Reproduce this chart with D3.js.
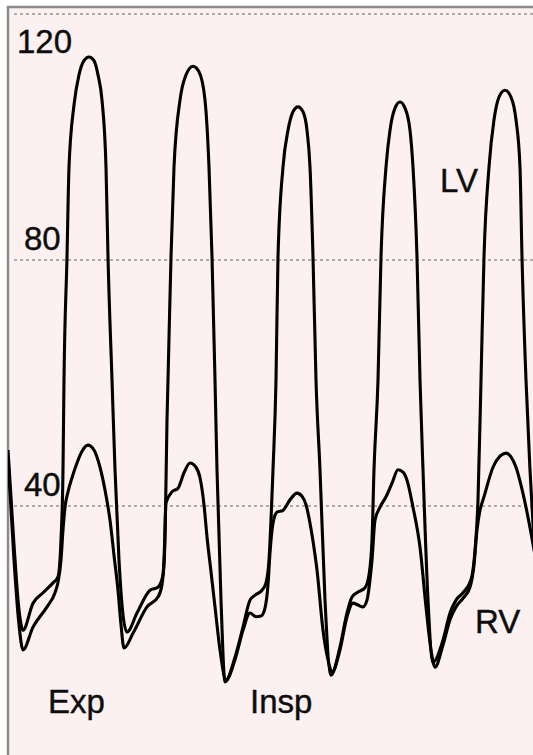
<!DOCTYPE html>
<html>
<head>
<meta charset="utf-8">
<script src="https://cdn.jsdelivr.net/npm/d3@7"></script>
<style>
  html, body { margin: 0; padding: 0; background: #fff; }
  svg { display: block; }
  .lbl { font-family: "Liberation Sans", Arial, sans-serif; font-size: 33px; fill: #0d0d0d; stroke: #0d0d0d; stroke-width: 0.4px; }
</style>
</head>
<body>
<div id="chart"></div>
<script>
// pressure tracing, time in ms, pressure in mmHg
const lvTime = [0, 30, 55, 75, 125, 175, 225, 250, 265, 275, 280, 295, 305, 330, 355, 380, 405, 430, 450, 470,
  490, 500, 520, 535, 555, 575, 595, 645, 710, 750, 775, 785, 795, 800, 815, 830, 860, 890, 925, 955,
  985, 1005, 1020, 1035, 1045, 1065, 1085, 1135, 1175, 1210, 1235, 1270, 1290, 1305, 1315, 1325, 1340, 1350, 1375, 1400,
  1425, 1450, 1475, 1495, 1510, 1525, 1540, 1560, 1585, 1615, 1660, 1695, 1720, 1750, 1785, 1805, 1820, 1830, 1850, 1865,
  1890, 1910, 1935, 1960, 1985, 2010, 2025, 2045, 2060, 2075, 2100, 2125, 2175, 2210, 2240, 2275, 2315, 2335, 2350, 2365,
  2380, 2405, 2430, 2455, 2485, 2515, 2540, 2560, 2570, 2590, 2610, 2635];
const lvPressure = [49.1, 33.7, 23.1, 19.8, 24.2, 25.9, 27.5, 28.5, 34.5, 45.9, 60.5, 80.5, 95.1, 105.2, 110.1, 112.4, 113.0, 112.4, 110.1, 106.0,
  95.1, 80.5, 60.5, 45.9, 31.2, 22.3, 19.5, 22.6, 26.3, 26.8, 28.8, 34.5, 54.0, 60.5, 80.5, 95.1, 106.0, 110.1, 111.5, 110.6,
  106.0, 95.1, 80.5, 60.5, 45.9, 24.7, 11.4, 15.4, 20.3, 24.7, 25.5, 26.3, 27.5, 31.2, 37.7, 45.9, 60.5, 80.5, 95.1, 101.1,
  104.1, 104.9, 104.1, 101.1, 95.1, 80.5, 60.5, 45.9, 24.7, 12.5, 17.1, 22.6, 25.2, 26.0, 26.7, 28.8, 34.5, 45.9, 60.5, 80.5,
  95.1, 101.1, 104.7, 105.7, 104.7, 101.1, 95.1, 80.5, 60.5, 45.9, 24.7, 14.6, 18.2, 22.6, 24.7, 25.9, 28.0, 32.8, 41.0, 60.5,
  80.5, 95.1, 102.8, 106.5, 107.6, 106.5, 102.8, 95.1, 80.5, 60.5, 45.9, 31.2];

const rvTime = [0, 30, 55, 75, 125, 195, 235, 250, 265, 275, 285, 300, 320, 345, 370, 400, 430, 460, 485, 510,
  530, 550, 565, 580, 625, 695, 750, 770, 780, 790, 820, 850, 880, 910, 940, 960, 980, 995, 1015, 1035,
  1060, 1090, 1135, 1175, 1210, 1240, 1265, 1285, 1300, 1310, 1325, 1345, 1375, 1410, 1445, 1470, 1490, 1510, 1530, 1545,
  1575, 1600, 1620, 1660, 1695, 1725, 1750, 1775, 1795, 1810, 1820, 1835, 1860, 1890, 1920, 1950, 1975, 1995, 2025, 2060,
  2090, 2115, 2135, 2175, 2210, 2240, 2275, 2310, 2330, 2345, 2360, 2380, 2425, 2460, 2490, 2515, 2540, 2565, 2590, 2635];
const rvPressure = [47.8, 31.2, 20.7, 16.6, 20.3, 23.6, 25.9, 27.6, 31.2, 36.1, 39.8, 42.3, 44.6, 47.0, 48.9, 49.9, 49.1, 46.3, 42.6, 37.7,
  32.0, 26.3, 20.7, 16.9, 19.3, 23.6, 25.2, 27.2, 31.2, 40.5, 42.3, 42.9, 45.4, 47.0, 46.3, 44.6, 40.2, 35.0, 29.3, 23.6,
  16.6, 11.7, 15.0, 19.8, 22.6, 22.0, 22.1, 23.4, 27.2, 32.4, 37.2, 39.0, 39.3, 41.0, 42.1, 41.6, 40.2, 37.2, 33.2, 29.6,
  19.8, 15.0, 13.0, 16.6, 22.0, 24.2, 23.9, 23.6, 24.7, 28.0, 31.2, 37.7, 39.8, 41.5, 43.7, 45.9, 45.5, 44.2, 39.8, 33.3,
  23.6, 16.6, 13.8, 17.4, 21.5, 23.6, 25.0, 26.8, 30.4, 36.1, 39.3, 41.5, 46.3, 48.1, 48.6, 48.0, 46.3, 43.4, 39.8, 32.0];

const gridValues = [40, 80, 120];
const tickLabels = ["40", "80", "120"];

const annotations = [
  { text: "LV", t: 2160, p: 91 },
  { text: "RV", t: 2335, p: 19.4 },
  { text: "Exp", t: 200, p: 6.4 },
  { text: "Insp", t: 1210, p: 6.4 }
];

const width = 533;
const height = 755;
const frame = { left: 8, top: 7 };

const svg = d3.select("#chart")
  .append("svg")
  .attr("width", width)
  .attr("height", height);

const x = d3.scaleLinear().domain([0, 2625]).range([frame.left, width]);
const y = d3.scaleLinear().domain([0, 120]).range([752, 14]);

svg.append("defs").append("clipPath")
  .attr("id", "plot-clip")
  .append("rect")
  .attr("x", frame.left)
  .attr("y", frame.top)
  .attr("width", width - frame.left)
  .attr("height", height - frame.top);

// pink paper + frame
svg.append("rect")
  .attr("x", frame.left)
  .attr("y", frame.top)
  .attr("width", width - frame.left + 5)
  .attr("height", height - frame.top + 5)
  .attr("fill", "#fcf0f1")
  .attr("stroke", "#8c8c8c")
  .attr("stroke-width", 2.5);

// dotted grid
svg.append("g")
  .selectAll("line")
  .data(gridValues)
  .join("line")
  .attr("x1", frame.left + 6)
  .attr("x2", width)
  .attr("y1", (d) => y(d))
  .attr("y2", (d) => y(d))
  .attr("stroke", "#b3a9ab")
  .attr("stroke-width", 1.8)
  .attr("stroke-dasharray", "3,3");

// tick labels sit just above their line, except the top one which sits below
svg.append("g")
  .selectAll("text")
  .data(gridValues)
  .join("text")
  .attr("class", "lbl")
  .attr("x", (d) => (d === 120 ? 17 : 24))
  .attr("y", (d) => (d === 120 ? y(d) + 39 : y(d) - 10))
  .text((d, i) => tickLabels[i]);

const line = d3.line()
  .x((d) => x(d[0]))
  .y((d) => y(d[1]))
  .curve(d3.curveMonotoneX);

const traces = [
  d3.zip(lvTime, lvPressure),
  d3.zip(rvTime, rvPressure)
];

svg.append("g")
  .attr("clip-path", "url(#plot-clip)")
  .selectAll("path")
  .data(traces)
  .join("path")
  .attr("d", line)
  .attr("fill", "none")
  .attr("stroke", "#000")
  .attr("stroke-width", 3.1)
  .attr("stroke-linejoin", "round");

svg.append("g")
  .selectAll("text")
  .data(annotations)
  .join("text")
  .attr("class", "lbl")
  .attr("x", (d) => x(d.t))
  .attr("y", (d) => y(d.p))
  .text((d) => d.text);
</script>
</body>
</html>
